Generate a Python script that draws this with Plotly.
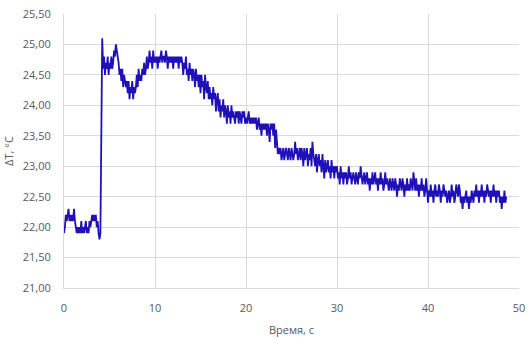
import plotly.graph_objects as go

dt = 0.1  # sampling interval, s
temps = [
    21.9, 22.0, 22.2, 22.1, 22.2, 22.3, 22.1, 22.2, 22.1, 22.2,
    22.1, 22.3, 22.1, 22.0, 21.9, 22.0, 21.9, 22.0, 21.9, 22.1,
    21.9, 22.0, 21.9, 22.0, 22.1, 21.9, 22.0, 21.9, 22.1, 22.0,
    22.1, 22.2, 22.1, 22.2, 22.1, 22.2, 22.0, 22.1, 21.9, 21.8,
    21.9, 24.2, 25.1, 24.6, 24.8, 24.5, 24.7, 24.6, 24.8, 24.5,
    24.7, 24.6, 24.8, 24.6, 24.7, 24.9, 24.8, 25.0, 24.9, 24.8,
    24.7, 24.5, 24.6, 24.4, 24.6, 24.3, 24.5, 24.4, 24.3, 24.4,
    24.2, 24.4, 24.1, 24.3, 24.2, 24.4, 24.1, 24.3, 24.2, 24.3,
    24.5, 24.3, 24.6, 24.4, 24.5, 24.4, 24.6, 24.5, 24.7, 24.5,
    24.6, 24.8, 24.6, 24.7, 24.9, 24.7, 24.8, 24.6, 24.9, 24.7,
    24.8, 24.7, 24.8, 24.6, 24.8, 24.7, 24.8, 24.9, 24.7, 24.8,
    24.8, 24.7, 24.9, 24.8, 24.6, 24.8, 24.7, 24.8, 24.7, 24.8,
    24.6, 24.8, 24.7, 24.8, 24.7, 24.8, 24.6, 24.8, 24.7, 24.8,
    24.7, 24.5, 24.7, 24.6, 24.8, 24.5, 24.6, 24.4, 24.7, 24.5,
    24.6, 24.4, 24.6, 24.5, 24.3, 24.6, 24.4, 24.5, 24.3, 24.5,
    24.2, 24.5, 24.3, 24.4, 24.1, 24.5, 24.3, 24.2, 24.4, 24.1,
    24.3, 24.1, 24.2, 24.0, 24.3, 24.1, 24.2, 23.9, 24.1, 24.2,
    23.9, 24.1, 23.8, 24.0, 23.9, 24.1, 23.8, 24.0, 23.9, 23.7,
    24.0, 23.8, 23.9, 23.7, 24.0, 23.8, 23.9, 23.8, 23.7, 23.9,
    23.8, 23.9, 23.7, 23.9, 23.8, 23.7, 23.9, 23.8, 23.9, 23.7,
    23.8, 23.7, 23.8, 23.9, 23.7, 23.8, 23.7, 23.8, 23.7, 23.8,
    23.7, 23.8, 23.6, 23.7, 23.8, 23.6, 23.7, 23.5, 23.7, 23.6,
    23.7, 23.6, 23.7, 23.5, 23.7, 23.6, 23.4, 23.7, 23.6, 23.7,
    23.5, 23.7, 23.3, 23.6, 23.4, 23.2, 23.3, 23.2, 23.3, 23.1,
    23.2, 23.3, 23.1, 23.2, 23.3, 23.2, 23.1, 23.3, 23.2, 23.1,
    23.3, 23.2, 23.1, 23.2, 23.4, 23.2, 23.3, 23.1, 23.2, 23.3,
    23.1, 23.3, 23.2, 23.0, 23.3, 23.1, 23.2, 23.3, 23.0, 23.2,
    23.1, 23.3, 23.0, 23.4, 23.2, 23.1, 23.0, 23.2, 22.9, 23.1,
    23.2, 23.0, 23.1, 22.9, 23.2, 23.0, 22.8, 23.1, 22.9, 23.0,
    23.1, 22.9, 23.0, 22.8, 23.1, 22.9, 23.0, 22.8, 23.0, 22.9,
    23.0, 22.8, 22.9, 22.7, 23.0, 22.8, 22.9, 22.7, 22.9, 22.8,
    22.9, 22.7, 22.8, 23.0, 22.8, 22.9, 22.7, 22.8, 22.9, 22.8,
    22.7, 22.9, 22.8, 22.7, 22.9, 22.8, 23.0, 22.8, 22.7, 22.8,
    22.9, 22.7, 22.8, 22.9, 22.7, 22.8, 22.6, 22.8, 22.7, 22.9,
    22.7, 22.8, 22.9, 22.7, 22.8, 22.6, 22.8, 22.7, 22.9, 22.7,
    22.8, 22.6, 22.7, 22.9, 22.7, 22.8, 22.7, 22.6, 22.8, 22.7,
    22.6, 22.8, 22.7, 22.6, 22.8, 22.7, 22.5, 22.7, 22.6, 22.8,
    22.7, 22.6, 22.8, 22.7, 22.5, 22.7, 22.6, 22.8, 22.6, 22.7,
    22.6, 22.8, 22.7, 22.6, 22.9, 22.7, 22.6, 22.8, 22.6, 22.7,
    22.5, 22.7, 22.6, 22.8, 22.6, 22.7, 22.5, 22.6, 22.8, 22.6,
    22.4, 22.6, 22.5, 22.7, 22.5, 22.6, 22.4, 22.6, 22.7, 22.5,
    22.6, 22.5, 22.7, 22.6, 22.4, 22.6, 22.5, 22.7, 22.6, 22.5,
    22.6, 22.4, 22.5, 22.6, 22.4, 22.5, 22.7, 22.5, 22.6, 22.4,
    22.5, 22.7, 22.6, 22.5, 22.7, 22.6, 22.4, 22.5, 22.3, 22.5,
    22.4, 22.5, 22.6, 22.4, 22.5, 22.3, 22.5, 22.4, 22.6, 22.5,
    22.4, 22.6, 22.5, 22.7, 22.5, 22.6, 22.4, 22.6, 22.5, 22.7,
    22.5, 22.6, 22.4, 22.6, 22.5, 22.7, 22.6, 22.5, 22.6, 22.4,
    22.6, 22.5, 22.7, 22.5, 22.6, 22.4, 22.6, 22.5, 22.6, 22.4,
    22.5, 22.3, 22.5, 22.4, 22.6, 22.4, 22.5,
]
times = [round(i * dt, 1) for i in range(len(temps))]

x_ticks = [0, 10, 20, 30, 40, 50]
y_ticks = [21.0, 21.5, 22.0, 22.5, 23.0, 23.5, 24.0, 24.5, 25.0, 25.5]

x_title = "Время, с"
y_title = "ΔT, °C"

grid = "#d9d9d9"
tick_font = dict(family="Open Sans, Noto Sans, sans-serif", size=11, color="#595959")

fig = go.Figure(go.Scatter(
    x=times, y=temps, mode="lines",
    line=dict(color="#1f10b8", width=1.8),
    showlegend=False,
))

fig.update_layout(
    width=528, height=349,
    margin=dict(l=64, r=9, t=14, b=61),
    paper_bgcolor="white", plot_bgcolor="white",
    separators=", ",
)
fig.update_xaxes(
    range=[0, 50], tickvals=x_ticks, showgrid=True, gridcolor=grid, gridwidth=1,
    showline=True, linecolor=grid, linewidth=1, zeroline=False,
    tickfont=tick_font, ticks="", ticklabelstandoff=10, automargin=False,
    ticklabeloverflow="allow",
    title=dict(text=x_title, font=tick_font, standoff=12),
)
fig.update_yaxes(
    range=[21.0, 25.5], tickvals=y_ticks, tickformat=".2f",
    showgrid=True, gridcolor=grid, gridwidth=1,
    showline=True, linecolor=grid, linewidth=1, zeroline=False,
    tickfont=tick_font, ticks="", ticklabelstandoff=10, automargin=False,
    ticklabeloverflow="allow",
    title=dict(text=y_title, font=tick_font, standoff=6),
)

fig.write_html(
    "out.html",
    config={"displayModeBar": False},
    post_script="document.body.style.margin='0';document.documentElement.style.overflow='hidden';",
)
